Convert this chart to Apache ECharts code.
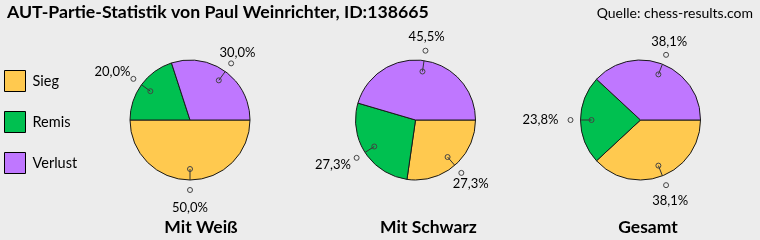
<!DOCTYPE html>
<html><head><meta charset="utf-8">
<script src="https://cdn.jsdelivr.net/npm/echarts@6/dist/echarts.min.js"></script>
<style>html,body{margin:0;padding:0;background:#ececec}#c{width:760px;height:240px}</style>
</head><body><div id="c"></div>
<script>
const categories = ['Sieg', 'Remis', 'Verlust'];
const panelNames = ['Mit Weiß', 'Mit Schwarz', 'Gesamt'];
const weiss = [5, 2, 3];
const schwarz = [3, 3, 5];
const gesamt = [8, 5, 8];
const colors = ['#FFC94F', '#00C050', '#BF77FF'];
const chartTitle = 'AUT-Partie-Statistik von Paul Weinrichter, ID:138665';
const sourceText = 'Quelle: chess-results.com';

const panels = [weiss, schwarz, gesamt];
const centers = [[190, 120], [415.5, 120], [640.5, 120]];
const subPos = [[201, 227], [428.5, 227], [648, 227]];
const R = 60, R_IN = 49, R_OUT = 70;
const FONT = 'Lato, "Open Sans", sans-serif';

const sum = a => a.reduce((x, y) => x + y, 0);
function fmt(v, tot) { return (v / tot * 100).toFixed(1).replace('.', ',') + '%'; }
function midFrac(vals, j) { let c = 0; for (let k = 0; k < j; k++) c += vals[k]; return (c + vals[j] / 2) / sum(vals); }

function makeLabelLayout(i) {
  return function (p) {
    const vals = panels[i];
    const a = midFrac(vals, p.dataIndex) * 2 * Math.PI;
    const dx = Math.cos(a), dy = Math.sin(a);
    const c = centers[i];
    const ox = c[0] + dx * R_OUT, oy = c[1] + dy * R_OUT;
    const hw = p.labelRect.width / 2, hh = p.labelRect.height / 2;
    const g = 8 + 3 * Math.max(dy, 0) + 4 * Math.pow(dx, 4);
    const sx = Math.sign(dx) * Math.pow(Math.abs(dx), dx < 0 ? 1.5 : 5);
    const sy = Math.sign(dy) * Math.pow(Math.abs(dy), 3);
    return {
      x: ox + dx * g + sx * hw,
      y: oy + dy * g + sy * hh,
      align: 'center', verticalAlign: 'middle'
    };
  };
}

const pieSeries = panels.map((vals, i) => {
  const tot = sum(vals);
  return {
    type: 'pie', center: centers[i], radius: R, startAngle: 0, clockwise: true,
    silent: true, avoidLabelOverlap: false, animation: false,
    data: vals.map((v, j) => ({ name: categories[j], value: v })),
    itemStyle: { borderColor: '#1a1a1a', borderWidth: 1 },
    label: { show: true, position: 'outside', formatter: p => fmt(p.value, tot),
      fontFamily: FONT, fontSize: 13, color: '#000' },
    labelLine: { show: false },
    labelLayout: makeLabelLayout(i),
    emphasis: { disabled: true }
  };
});

// leader lines with hollow end dots, in a polar system matching each pie
const leaderSeries = [];
panels.forEach((vals, i) => {
  const tot = sum(vals);
  vals.forEach((v, j) => {
    const mid = midFrac(vals, j) * tot;
    leaderSeries.push({
      type: 'line', coordinateSystem: 'polar', polarIndex: i,
      data: [[R_IN, mid], [R_OUT, mid]], clip: false,
      symbol: 'circle', symbolSize: 5, showSymbol: true, showAllSymbol: true,
      silent: true, animation: false, z: 5,
      lineStyle: { color: '#333', width: 1 },
      itemStyle: { color: 'rgba(0,0,0,0)', borderColor: '#444', borderWidth: 1 }
    });
  });
});

const option = {
  backgroundColor: '#ececec',
  animation: false,
  color: colors,
  title: [
    { text: chartTitle, left: 7, top: 3, padding: 0,
      textStyle: { fontFamily: FONT, fontSize: 17.7, fontWeight: 'bold', color: '#000' } },
    { text: sourceText, right: 7, top: 6, padding: 0,
      textStyle: { fontFamily: FONT, fontSize: 14, fontWeight: 'normal', color: '#000' } }
  ],
  legend: {
    orient: 'vertical', left: 4, top: 70, padding: 0, itemWidth: 21, itemHeight: 21, itemGap: 19,
    icon: 'rect', data: categories, selectedMode: false,
    itemStyle: { borderColor: '#000', borderWidth: 1 },
    textStyle: { fontFamily: FONT, fontSize: 14.5, color: '#000', padding: [0, 0, 0, 2] }
  },
  polar: centers.map(c => ({ center: c, radius: R })),
  angleAxis: panels.map((vals, i) => ({
    polarIndex: i, type: 'value', min: 0, max: sum(vals),
    startAngle: 0, clockwise: true, show: false,
    axisLine: { show: false }, splitLine: { show: false }, axisLabel: { show: false }, axisTick: { show: false }
  })),
  radiusAxis: panels.map((vals, i) => ({
    polarIndex: i, type: 'value', min: 0, max: R, show: false,
    axisLine: { show: false }, splitLine: { show: false }, axisLabel: { show: false }, axisTick: { show: false }
  })),
  graphic: panelNames.map((n, i) => ({
    type: 'text', x: subPos[i][0], y: subPos[i][1], silent: true,
    style: { text: n, align: 'center', verticalAlign: 'middle', font: 'bold 17.5px ' + FONT, fill: '#000' }
  })),
  series: pieSeries.concat(leaderSeries)
};

const chart = echarts.init(document.getElementById('c'), null, { renderer: 'canvas' });
chart.setOption(option);
</script>
</body></html>
